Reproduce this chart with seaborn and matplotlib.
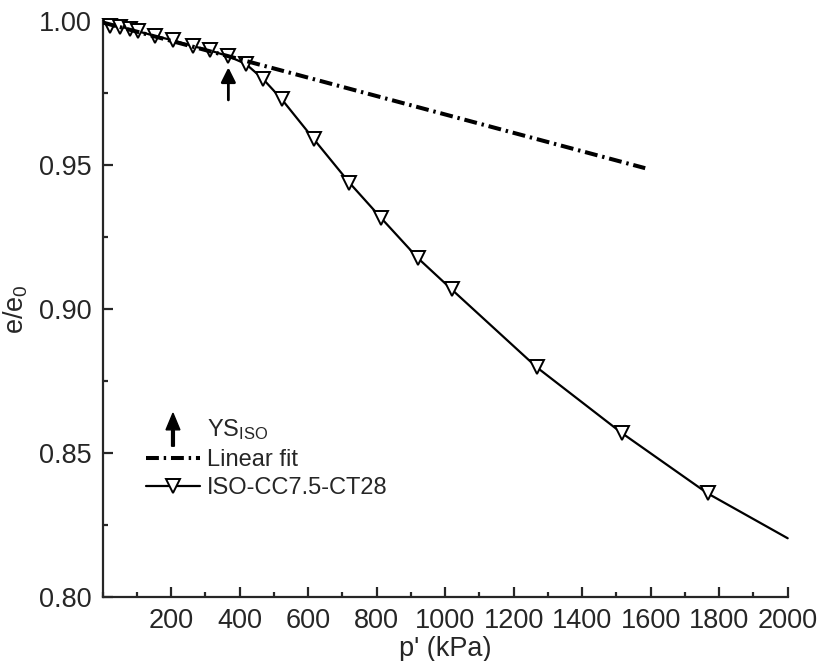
import numpy as np
import pandas as pd
import matplotlib
matplotlib.use('Agg')
import matplotlib.pyplot as plt
import seaborn as sns
from matplotlib.lines import Line2D
from matplotlib.patches import FancyArrow
from matplotlib.legend_handler import HandlerPatch
from matplotlib.ticker import MultipleLocator

# Compression curve
p_kpa = [22, 52, 80, 104, 153, 205, 263, 313, 366, 418, 468, 523, 617,
         720, 813, 921, 1019, 1267, 1515, 1766, 2000]
e_ratio = [0.9983, 0.9979, 0.9974, 0.9964, 0.9948, 0.9933, 0.9913, 0.9898,
           0.9878, 0.9851, 0.9799, 0.9728, 0.9589, 0.9439, 0.9316, 0.9176,
           0.9068, 0.8798, 0.8570, 0.8360, 0.8204]

# Linear fit end points
fit_p = [0, 1584]
fit_e = [0.9995, 0.9489]

# Yield stress arrow (tail, tip)
ys_p = 367
ys_e = [0.9726, 0.9839]

x_ticks = list(range(200, 2001, 200))
y_ticks = [0.80, 0.85, 0.90, 0.95, 1.00]

sns.set_style('ticks')
plt.rcParams['font.family'] = ['Liberation Sans', 'DejaVu Sans']
plt.rcParams['mathtext.default'] = 'regular'

df = pd.DataFrame({'p': p_kpa, 'e': e_ratio})
df_fit = pd.DataFrame({'p': fit_p, 'e': fit_e})

fig = plt.figure(figsize=(8.2, 6.61), dpi=100)
ax = fig.add_axes([0.1252, 0.0968, 0.8354, 0.8714])

sns.lineplot(data=df, x='p', y='e', ax=ax, color='black', lw=1.6,
             marker='v', markersize=10, markerfacecolor='white',
             markeredgecolor='black', markeredgewidth=1.4,
             markevery=list(range(len(p_kpa) - 1)), clip_on=False, zorder=3)
sns.lineplot(data=df_fit, x='p', y='e', ax=ax, color='black', lw=2.9,
             linestyle=(0, (3.2, 1.2, 0.6, 1.2)), zorder=4)

ax.annotate('', xy=(ys_p, ys_e[1]), xytext=(ys_p, ys_e[0]),
            arrowprops=dict(arrowstyle='-|>', color='black', lw=2,
                            mutation_scale=22, shrinkA=0, shrinkB=0),
            zorder=5)

ax.set_xlim(0, 2000)
ax.set_ylim(0.80, 1.00)
ax.set_xticks(x_ticks)
ax.set_yticks(y_ticks)
ax.set_yticklabels([f'{v:.2f}' for v in y_ticks])
ax.xaxis.set_minor_locator(MultipleLocator(100))
ax.yaxis.set_minor_locator(MultipleLocator(0.025))
ax.tick_params(which='both', direction='in', width=1.6, labelsize=19.5, pad=8)
ax.tick_params(which='major', length=7.5)
ax.tick_params(which='minor', length=3.8)
sns.despine(ax=ax)
for s in ['left', 'bottom']:
    ax.spines[s].set_linewidth(1.6)

ax.set_xlabel("p' (kPa)", fontsize=19.5, labelpad=1)
ax.set_ylabel('e/e$_0$', fontsize=19.5, labelpad=6)


def make_arrow(legend, orig_handle, xdescent, ydescent, width, height, fontsize):
    return FancyArrow(width / 2, -0.6 * height, 0, 2.0 * height,
                      width=2.0, head_width=10, head_length=12,
                      length_includes_head=True, color='black')


arrow_handle = FancyArrow(0, 0, 0, 1, color='black')
handles = [
    arrow_handle,
    Line2D([], [], color='black', lw=2.9, linestyle=(0, (3.2, 1.2, 0.6, 1.2))),
    Line2D([], [], color='black', lw=1.6, marker='v', markersize=10,
           markerfacecolor='white', markeredgecolor='black', markeredgewidth=1.4),
]
labels = ['YS$_{ISO}$', 'Linear fit', 'ISO-CC7.5-CT28']
ax.legend(handles, labels, loc='upper left', bbox_to_anchor=(0.063, 0.312),
          frameon=False, fontsize=17, handlelength=2.3, handletextpad=0.3,
          labelspacing=0.28, borderpad=0, borderaxespad=0,
          handler_map={FancyArrow: HandlerPatch(patch_func=make_arrow)})

fig.savefig('out.png', dpi=100, facecolor='white')
